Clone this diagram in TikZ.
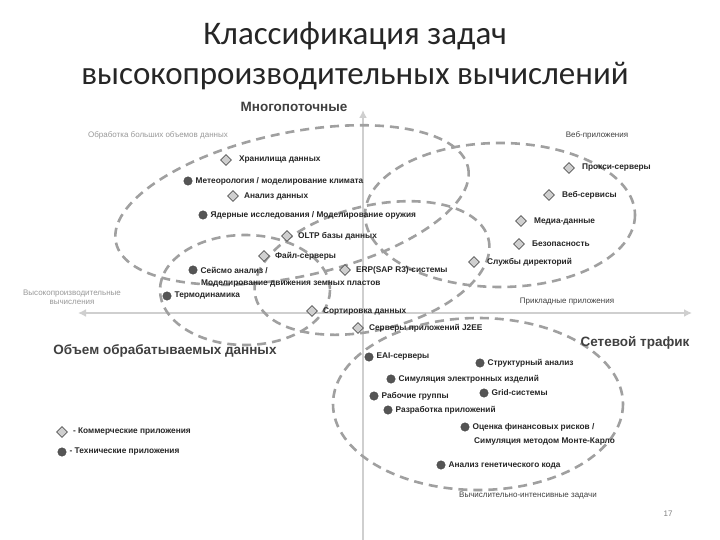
\documentclass[tikz,border=0pt]{standalone}
\usepackage{fontspec}
\setmainfont{Liberation Sans}
\newfontfamily\titlefont{Carlito}
\usetikzlibrary{shapes.geometric,arrows.meta}
\definecolor{dg}{HTML}{555555}
\definecolor{lg}{HTML}{CFCFCF}
\definecolor{eg}{HTML}{A0A0A0}
\begin{document}
\begin{tikzpicture}[x=1pt,y=-1pt,
  dia/.style={diamond,draw=dg,fill=lg,line width=0.8pt,minimum size=11pt,inner sep=0pt},
  dot/.style={circle,draw=dg!80!black,fill=dg,minimum size=8.5pt,inner sep=0pt},
  lbl/.style={anchor=west,font=\fontsize{8.3}{9}\selectfont\bfseries,inner sep=1pt,text=black!85},
  faint/.style={font=\fontsize{8}{9}\selectfont,text=black!40,align=center},
  grp/.style={font=\fontsize{8}{9}\selectfont,text=black!75},
  ell/.style={draw=eg,line width=2.6pt,dash pattern=on 9pt off 6pt},
  axis/.style={draw=lg,line width=2.5pt,-{Latex[length=8pt,width=8pt]}},
  big/.style={font=\fontsize{13.5}{15}\selectfont\bfseries,text=black!75}]
\useasboundingbox (0,0) rectangle (720,540);
\fill[white] (0,0) rectangle (720,540);
% axes
\coordinate (vt) at (363,110); \coordinate (vb) at (363,540);
\coordinate (hl) at (78,313); \coordinate (hr) at (692,313); \coordinate (hc) at (363,313);
\draw[axis] (vb) -- (vt);
\draw[axis] (hc) -- (hl);
\draw[axis] (hc) -- (hr);
% ellipses
\draw[ell] (292,205) ellipse [x radius=180,y radius=72,rotate=12];
\draw[ell] (500,215) ellipse [x radius=135,y radius=72,rotate=0];
\draw[ell] (245,290) ellipse [x radius=85,y radius=55];
\draw[ell] (372,268) ellipse [x radius=120,y radius=62,rotate=14];
\draw[ell] (478,404) ellipse [x radius=145,y radius=86];
% title
\node[font=\titlefont\fontsize{33}{38}\selectfont,text=black!85] (title1) at (355,36) {Классификация задач};
\node[font=\titlefont\fontsize{33}{38}\selectfont,text=black!85] (title2) at (355,76) {высокопроизводительных вычислений};
\node[big] (mt) at (294,107) {Многопоточные};
\node[faint] (g1) at (158,135) {Обработка больших объемов данных};
\node[grp] (g2) at (597,135) {Веб-приложения};
\node[faint] (g3) at (72,297) {Высокопроизводительные\\вычисления};
\node[grp] (g4) at (567,302) {Прикладные приложения};
\node[grp] (g5) at (528,496) {Вычислительно-интенсивные задачи};
\node[big] (ox) at (165,351) {Объем обрабатываемых данных};
\node[big] (nt) at (635,343) {Сетевой трафик};
\node[font=\fontsize{8}{9}\selectfont,text=black!50] (pg) at (668,514) {17};
% items
\node[dia] (a1) at (226,160) {}; \node[lbl] (t1) at ([xshift=6pt]a1.east) {Хранилища данных};
\node[dot] (a2) at (188,181) {}; \node[lbl] (t2) at ([xshift=2pt]a2.east) {Метеорология / моделирование климата};
\node[dia] (a3) at (233,196) {}; \node[lbl] (t3) at ([xshift=4pt]a3.east) {Анализ данных};
\node[dot] (a4) at (203,215) {}; \node[lbl] (t4) at ([xshift=2pt]a4.east) {Ядерные исследования / Моделирование оружия};
\node[dia] (a5) at (287,236) {}; \node[lbl] (t5) at ([xshift=4pt]a5.east) {OLTP базы данных};
\node[dia] (a6) at (264,256) {}; \node[lbl] (t6) at ([xshift=4pt]a6.east) {Файл-серверы};
\node[dot] (a7) at (193,270) {}; \node[lbl] (t7) at ([xshift=2pt]a7.east) {Сейсмо анализ /};
\node[lbl] (t7b) at (200,284) {Моделирование движения земных пластов};
\node[dia] (a8) at (345,270) {}; \node[lbl] (t8) at ([xshift=4pt]a8.east) {ERP(SAP R3)-системы};
\node[dot] (a9) at (167,296) {}; \node[lbl] (t9) at ([xshift=2pt]a9.east) {Термодинамика};
\node[dia] (a10) at (312,311) {}; \node[lbl] (t10) at ([xshift=4pt]a10.east) {Сортировка данных};
\node[dia] (a11) at (358,328) {}; \node[lbl] (t11) at ([xshift=4pt]a11.east) {Серверы приложений J2EE};
\node[dia] (b1) at (569,168) {}; \node[lbl] (u1) at ([xshift=6pt]b1.east) {Прокси-серверы};
\node[dia] (b2) at (549,195) {}; \node[lbl] (u2) at ([xshift=6pt]b2.east) {Веб-сервисы};
\node[dia] (b3) at (521,221) {}; \node[lbl] (u3) at ([xshift=6pt]b3.east) {Медиа-данные};
\node[dia] (b4) at (519,244) {}; \node[lbl] (u4) at ([xshift=6pt]b4.east) {Безопасность};
\node[dia] (b5) at (474,262) {}; \node[lbl] (u5) at ([xshift=6pt]b5.east) {Службы директорий};
\node[dot] (c1) at (369,357) {}; \node[lbl] (v1) at ([xshift=2pt]c1.east) {EAI-серверы};
\node[dot] (c2) at (480,363) {}; \node[lbl] (v2) at ([xshift=2pt]c2.east) {Структурный анализ};
\node[dot] (c3) at (391,379) {}; \node[lbl] (v3) at ([xshift=2pt]c3.east) {Симуляция электронных изделий};
\node[dot] (c4) at (374,396) {}; \node[lbl] (v4) at ([xshift=2pt]c4.east) {Рабочие группы};
\node[dot] (c5) at (484,393) {}; \node[lbl] (v5) at ([xshift=2pt]c5.east) {Grid-системы};
\node[dot] (c6) at (388,410) {}; \node[lbl] (v6) at ([xshift=2pt]c6.east) {Разработка приложений};
\node[dot] (c7) at (465,427) {}; \node[lbl] (v7) at ([xshift=2pt]c7.east) {Оценка финансовых рисков /};
\node[lbl] (v7b) at (473,441) {Симуляция методом Монте-Карло};
\node[dot] (c8) at (441,465) {}; \node[lbl] (v8) at ([xshift=2pt]c8.east) {Анализ генетического кода};
% legend
\node[dia] (l1) at (62,432) {}; \node[lbl] (lt1) at ([xshift=4pt]l1.east) {- Коммерческие приложения};
\node[dot] (l2) at (62,452) {}; \node[lbl] (lt2) at ([xshift=2pt]l2.east) {- Технические приложения};
\end{tikzpicture}
\end{document}
